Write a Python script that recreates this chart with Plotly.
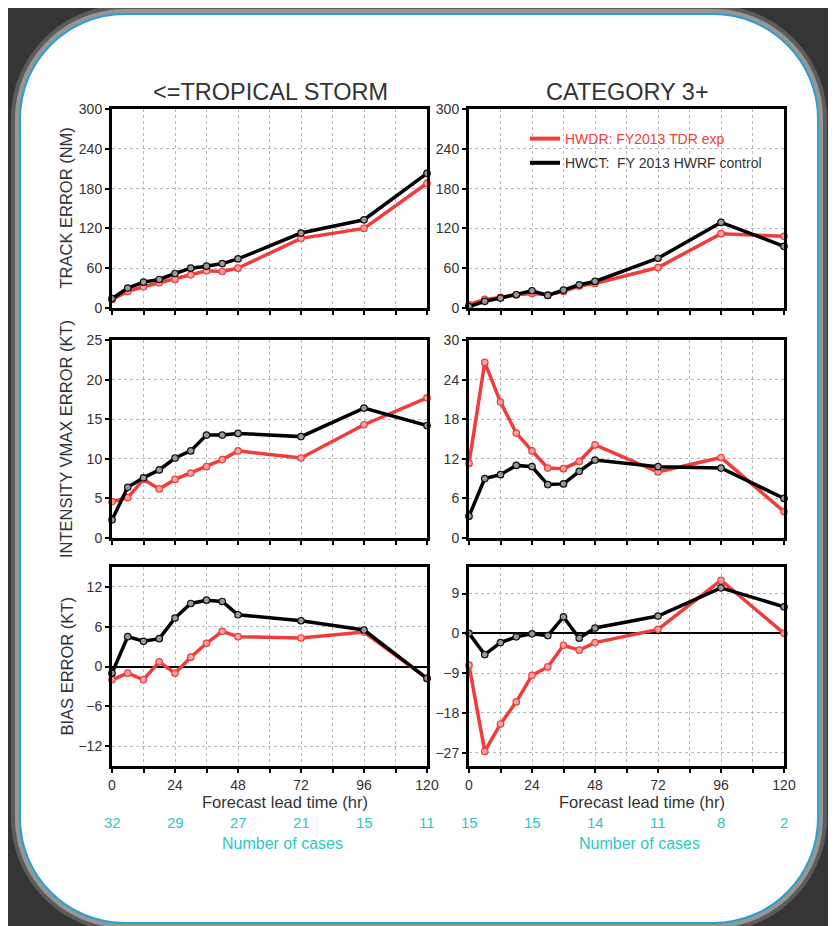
import plotly.graph_objects as go

# ---------------- data ----------------
hours = [0, 6, 12, 18, 24, 30, 36, 42, 48, 72, 96, 120]

ts_track_hwdr = [13, 25, 32, 38, 43, 50, 56, 55, 60, 105, 120, 188]
ts_track_hwct = [14, 30, 39, 43, 52, 60, 63, 67, 74, 113, 133, 203]
c3_track_hwdr = [5, 13, 16, 20, 22, 20, 25, 33, 37, 61, 112, 108]
c3_track_hwct = [2, 10, 15, 20, 26, 19, 27, 35, 40, 75, 129, 93]

ts_vmax_hwdr = [4.6, 5.1, 7.4, 6.2, 7.4, 8.2, 9.0, 9.9, 11.0, 10.1, 14.3, 17.7]
ts_vmax_hwct = [2.3, 6.4, 7.6, 8.6, 10.1, 11.0, 13.0, 13.0, 13.2, 12.8, 16.4, 14.2]
c3_vmax_hwdr = [11.3, 26.6, 20.6, 15.9, 13.2, 10.6, 10.5, 11.6, 14.1, 10.0, 12.2, 4.0]
c3_vmax_hwct = [3.3, 9.0, 9.6, 11.0, 10.8, 8.1, 8.2, 10.1, 11.8, 10.8, 10.6, 6.0]

ts_bias_hwdr = [-2.0, -1.0, -2.0, 0.7, -1.0, 1.4, 3.5, 5.3, 4.5, 4.3, 5.2, -1.8]
ts_bias_hwct = [-1.0, 4.5, 3.8, 4.2, 7.3, 9.5, 10.0, 9.8, 7.8, 6.9, 5.5, -1.8]
c3_bias_hwdr = [-7.2, -26.7, -20.5, -15.5, -9.5, -7.6, -2.7, -3.8, -2.1, 0.9, 12.0, 0.0]
c3_bias_hwct = [0.0, -4.8, -2.1, -0.8, -0.1, -0.5, 3.7, -1.1, 1.2, 3.9, 10.3, 6.0]

case_hours = [0, 24, 48, 72, 96, 120]
ts_cases = [32, 29, 27, 21, 15, 11]
c3_cases = [15, 15, 14, 11, 8, 2]

column_titles = ["<=TROPICAL STORM", "CATEGORY 3+"]
row_titles = ["TRACK ERROR (NM)", "INTENSITY VMAX ERROR (KT)", "BIAS ERROR (KT)"]
hwdr_name = "HWDR: FY2013 TDR exp"
hwct_name = "HWCT:  FY 2013 HWRF control"
x_ticks = list(range(0, 121, 12))
x_ticktext = [str(v) if v % 24 == 0 else "" for v in x_ticks]

y_ranges = [[[0, 300], [0, 300]], [[0, 25], [0, 30]], [[-15, 15], [-30, 15]]]
y_ticks = [[[0, 60, 120, 180, 240, 300], [0, 60, 120, 180, 240, 300]],
           [[0, 5, 10, 15, 20, 25], [0, 6, 12, 18, 24, 30]],
           [[-12, -6, 0, 6, 12], [-27, -18, -9, 0, 9]]]
series = [[(ts_track_hwdr, ts_track_hwct), (c3_track_hwdr, c3_track_hwct)],
          [(ts_vmax_hwdr, ts_vmax_hwct), (c3_vmax_hwdr, c3_vmax_hwct)],
          [(ts_bias_hwdr, ts_bias_hwct), (c3_bias_hwdr, c3_bias_hwct)]]

# ---------------- layout geometry (page pixels; page has 8px body margin) ----------------
OFF = 8
W, H = 836 - OFF, 926 - OFF
def PX(x): return (x - OFF) / W
def PY(y): return 1 - (y - OFF) / H

col_px = [(112, 427), (469, 784)]
row_px = [(109, 308), (340, 538), (567, 766)]

RED = "#f23c3c"
BLACK = "#000000"
CYAN = "#2fc6c6"
TXT = "#333333"
FONT = "Liberation Sans, Arial, sans-serif"

fig = go.Figure()
layout = dict(
    width=W, height=H,
    margin=dict(l=0, r=0, t=0, b=0, pad=0, autoexpand=False),
    paper_bgcolor="#353535",
    plot_bgcolor="rgba(0,0,0,0)",
    font=dict(family=FONT, color=TXT, size=14),
    showlegend=True,
)

for r in range(3):
    for c in range(2):
        n = r * 2 + c + 1
        xa = "x" if n == 1 else f"x{n}"
        ya = "y" if n == 1 else f"y{n}"
        red_vals, black_vals = series[r][c]
        fig.add_trace(go.Scatter(
            x=hours, y=red_vals, xaxis=xa, yaxis=ya, mode="lines+markers",
            name=hwdr_name, legendgroup="hwdr", showlegend=False,
            line=dict(color=RED, width=3.5),
            marker=dict(symbol="circle", size=6.5, color="#f7a3a3", line=dict(color=RED, width=1.2)),
            cliponaxis=False))
        fig.add_trace(go.Scatter(
            x=hours, y=black_vals, xaxis=xa, yaxis=ya, mode="lines+markers",
            name=hwct_name, legendgroup="hwct", showlegend=False,
            line=dict(color=BLACK, width=3.5),
            marker=dict(symbol="circle", size=6.5, color="#9a9a9a", line=dict(color="#111111", width=1.2)),
            cliponaxis=False))
        x0, x1 = col_px[c]
        y0, y1 = row_px[r]
        layout["xaxis" if n == 1 else f"xaxis{n}"] = dict(
            domain=[PX(x0), PX(x1)], anchor=ya, range=[0, 120], automargin=False,
            tickmode="array", tickvals=x_ticks, ticktext=x_ticktext,
            showticklabels=(r == 2), ticks="outside", ticklen=4, tickwidth=2, tickcolor="black",
            showgrid=True, gridcolor="#b8b8b8", griddash="dot", gridwidth=1,
            showline=True, linecolor="black", linewidth=3, mirror=True, zeroline=False,
            tickfont=dict(size=14, color=TXT, family=FONT))
        layout["yaxis" if n == 1 else f"yaxis{n}"] = dict(
            domain=[PY(y1), PY(y0)], anchor=xa, range=y_ranges[r][c], automargin=False,
            tickmode="array", tickvals=y_ticks[r][c],
            ticks="outside", ticklen=4, tickwidth=2, tickcolor="black",
            showgrid=True, gridcolor="#b8b8b8", griddash="dot", gridwidth=1,
            showline=True, linecolor="black", linewidth=3, mirror=True,
            zeroline=(r == 2), zerolinecolor="black", zerolinewidth=1.5,
            tickfont=dict(size=14, color=TXT, family=FONT))

# legend entries (line swatches only)
fig.add_trace(go.Scatter(x=[None], y=[None], mode="lines", legendgroup="hwdr",
                         name=f'<span style="color:{RED}">{hwdr_name}</span>',
                         line=dict(color=RED, width=4), xaxis="x2", yaxis="y2"))
fig.add_trace(go.Scatter(x=[None], y=[None], mode="lines", legendgroup="hwct",
                         name=hwct_name, line=dict(color=BLACK, width=4), xaxis="x2", yaxis="y2"))

annotations = []
for c, t in enumerate(column_titles):
    annotations.append(dict(text=t, x=PX((col_px[c][0] + col_px[c][1]) / 2 + 1), y=PY(92),
                            xref="paper", yref="paper", showarrow=False,
                            font=dict(size=23.5, color=TXT, family=FONT), xanchor="center", yanchor="middle"))
for r, t in enumerate(row_titles):
    annotations.append(dict(text=t, x=PX(66), y=PY((row_px[r][0] + row_px[r][1]) / 2),
                            xref="paper", yref="paper", showarrow=False, textangle=-90,
                            font=dict(size=16.5, color=TXT, family=FONT), xanchor="center", yanchor="middle"))
for c, cases in enumerate([ts_cases, c3_cases]):
    n = 4 + c + 1
    cx = (col_px[c][0] + col_px[c][1]) / 2 + 15
    annotations.append(dict(text="Forecast lead time (hr)", x=PX(cx), y=PY(802),
                            xref="paper", yref="paper", showarrow=False, borderpad=0,
                            font=dict(size=16.5, color=TXT, family=FONT), xanchor="center", yanchor="middle"))
    annotations.append(dict(text="Number of cases", x=PX(cx - 2), y=PY(843),
                            xref="paper", yref="paper", showarrow=False, borderpad=0,
                            font=dict(size=16, color=CYAN, family=FONT), xanchor="center", yanchor="middle"))
    for h, v in zip(case_hours, cases):
        annotations.append(dict(text=str(v), x=h, y=PY(822), xref=f"x{n}", yref="paper",
                                showarrow=False, borderpad=0, font=dict(size=15, color=CYAN, family=FONT),
                                xanchor="center", yanchor="middle"))
layout["annotations"] = annotations

def rounded_path(l, t, r, b, rad):
    k = 0.5523 * rad
    pts = [("M", [(l + rad, t)]), ("L", [(r - rad, t)]),
           ("C", [(r - rad + k, t), (r, t + rad - k), (r, t + rad)]), ("L", [(r, b - rad)]),
           ("C", [(r, b - rad + k), (r - rad + k, b), (r - rad, b)]), ("L", [(l + rad, b)]),
           ("C", [(l + rad - k, b), (l, b - rad + k), (l, b - rad)]), ("L", [(l, t + rad)]),
           ("C", [(l, t + rad - k), (l + rad - k, t), (l + rad, t)])]
    s = ""
    for cmd, pp in pts:
        s += cmd + " ".join(f"{PX(x):.5f},{PY(y):.5f}" for x, y in pp) + " "
    return s + "Z"

FL, FT, FR, FB, RAD = 20, 14, 818, 923, 105
def grown(d):
    return rounded_path(FL - d, FT - d, FR + d, FB + d, RAD + d)

layout["shapes"] = [
    dict(type="path", path=grown(9), xref="paper", yref="paper",
         line=dict(width=0), fillcolor="rgba(110,110,110,0.7)", layer="below"),
    dict(type="path", path=grown(5), xref="paper", yref="paper",
         line=dict(width=0), fillcolor="rgba(165,165,165,0.8)", layer="below"),
    dict(type="path", path=grown(0), xref="paper", yref="paper",
         line=dict(color="#2a9fd0", width=2), fillcolor="white", layer="below"),
]

layout["legend"] = dict(x=PX(525), y=PY(123), xanchor="left", yanchor="top",
                        bgcolor="rgba(0,0,0,0)", font=dict(size=14, color=TXT, family=FONT),
                        tracegroupgap=3)

fig.update_layout(**layout)
fig.write_html("out.html")
